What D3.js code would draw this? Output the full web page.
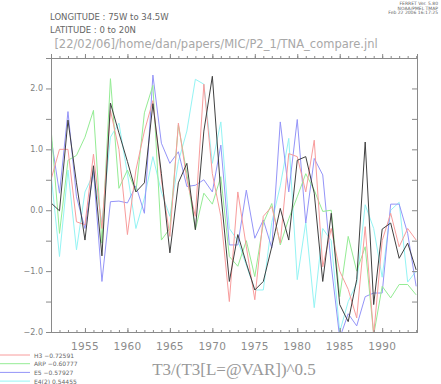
<!DOCTYPE html>
<html>
<head>
<meta charset="utf-8">
<script src="https://cdn.jsdelivr.net/npm/d3@7"></script>
<style>
body { margin: 0; background: #fff; }
#chart { width: 441px; height: 384px; }
</style>
</head>
<body>
<div id="chart"></div>
<script>
var years = [1951,1952,1953,1954,1955,1956,1957,1958,1959,1960,1961,1962,1963,1964,1965,1966,1967,1968,1969,1970,1971,1972,
    1973,1974,1975,1976,1977,1978,1979,1980,1981,1982,1983,1984,1985,1986,1987,1988,1989,1990,1991,1992,1993,1994]

var t3 = [0.12,-0.01,1.48,0.45,-0.49,0.73,-0.75,1.76,1.27,0.8,0.3,0.45,1.75,0.6,-0.7,0.45,0.77,-0.32,1.3,2.2,0.28,-1.17,
    -0.4,-0.87,-1.31,-1.17,-0.6,0.03,-0.49,0.82,0.88,0.28,-1.17,-0.05,-1.55,-1.83,-1.14,1.12,-1.55,-0.31,-0.21,-0.79,-0.54,-0.98]
var h3 = [0.5,1.0,1.0,-0.19,-0.24,0.92,-0.3,1.64,1.0,-0.4,0.66,1.3,1.8,0.5,-0.43,1.43,0.5,-0.1,2.07,0.6,-0.1,-1.5,
    0.3,-0.6,-1.47,-0.1,0.06,-0.54,0.93,0.88,0.3,1.15,-0.93,-0.3,-1.0,-1.3,-1.77,-0.27,-2.05,-0.5,-0.05,-0.6,-0.3,-0.49]
var arp = [1.35,-0.38,0.82,0.9,1.2,1.64,-0.54,2.16,0.36,0.66,0.3,1.6,2.05,-0.49,-0.3,1.4,0.6,-0.32,0.28,0.1,0.55,-0.76,
    -0.92,-0.5,-1.09,-0.21,0.11,-0.57,-0.14,0.22,0.6,0.33,-0.02,0.0,-1.42,-0.43,-1.0,-0.6,-2.05,-1.25,-1.44,-1.22,-1.22,-1.39]
var e5 = [1.2,0.28,1.62,0.22,-0.3,0.65,-1.17,0.14,0.15,0.12,0.4,-0.05,2.22,1.1,0.77,0.96,0.39,0.41,0.5,0.3,1.07,-0.57,
    -0.57,0.33,-0.46,-0.16,-0.62,1.45,0.3,1.49,-0.21,0.85,0.58,-0.9,-2.1,-1.7,-1.9,-1.42,-1.36,-1.36,0.1,0.1,-0.38,-1.25]
var e4 = [0.6,-0.76,0.66,-0.65,0.3,0.6,-0.2,1.2,1.43,0.6,-0.3,0.2,0.88,0.3,-0.1,0.8,1.3,2.15,2.07,0.77,1.45,-0.3,
    -0.5,-0.9,-1.31,-1.31,-0.2,0.4,1.18,-1.14,-0.2,-1.6,-0.3,-0.5,-2.0,-1.5,-1.2,0.09,-0.3,-1.1,0.0,0.13,-1.18,-1.0]

var xTicks = [1955,1960,1965,1970,1975,1980,1985,1990]
var yTicks = [-2.0,-1.0,0.0,1.0,2.0]
var legendNames = ["H3 \u22120.72591","ARP \u22120.60777","E5 \u22120.57927","E4(2) 0.54455"]
var headerLines = ["FERRET Ver. 5.80","NOAA/PMEL TMAP","Feb 22 2006 16:17:25"]

var series = [
    {name: "E4(2)", values: e4, color: "#94f4f4"},
    {name: "E5", values: e5, color: "#9494f8"},
    {name: "ARP", values: arp, color: "#94ec94"},
    {name: "H3", values: h3, color: "#f89c9c"},
    {name: "T3", values: t3, color: "#404040"}
]

var margin = {top: 58, right: 24, bottom: 52, left: 51}
var width = 441 - margin.left - margin.right
var height = 384 - margin.top - margin.bottom

var svg = d3.select("#chart").append("svg")
    .attr("width", 441)
    .attr("height", 384)
    .style("font-family", "DejaVu Sans, sans-serif")

var g = svg.append("g")
    .attr("transform", "translate(" + margin.left + "," + margin.top + ")")

var x = d3.scaleLinear().domain([1951, 1994.1]).range([0, width])
var y = d3.scaleLinear().domain([-2, 2.5]).range([height, 0])

g.append("clipPath").attr("id", "clip")
    .append("rect").attr("width", width).attr("height", height)

var line = d3.line()
    .x(function(d, i){ return x(years[i]) })
    .y(function(d){ return y(d) })

g.append("g").attr("clip-path", "url(#clip)")
    .selectAll("path")
    .data(series)
    .enter()
    .append("path")
    .attr("d", function(d){ return line(d.values) })
    .attr("fill", "none")
    .attr("stroke", function(d){ return d.color })
    .attr("stroke-width", 1)

// axes, ferret style: ticks inside on bottom/right, outside on left/top
var axisColor = "#8a8a8a"
var yearsAll = d3.range(1951, 1995)

g.append("g")
    .attr("transform", "translate(0," + height + ")")
    .call(d3.axisTop(x).tickValues(yearsAll).tickSize(2).tickFormat(""))
g.append("g")
    .attr("transform", "translate(0," + height + ")")
    .call(d3.axisTop(x).tickValues(xTicks).tickSize(4).tickFormat(""))
g.append("g")
    .call(d3.axisTop(x).tickValues(yearsAll).tickSize(2).tickFormat(""))
g.append("g")
    .call(d3.axisTop(x).tickValues(xTicks).tickSize(4).tickFormat(""))

var yAll = d3.range(-2, 2.51, 0.5)
g.append("g")
    .call(d3.axisLeft(y).tickValues(yAll).tickSize(5).tickFormat(""))
g.append("g")
    .attr("transform", "translate(" + width + ",0)")
    .call(d3.axisLeft(y).tickValues(yAll).tickSize(5).tickFormat(""))

g.selectAll(".domain").attr("stroke", axisColor)
g.selectAll(".tick line").attr("stroke", axisColor)

// tick labels
g.selectAll(".xlab")
    .data(xTicks)
    .enter()
    .append("text")
    .attr("x", function(d){ return x(d) })
    .attr("y", height + 18)
    .attr("text-anchor", "middle")
    .attr("font-size", 10.5)
    .attr("letter-spacing", 0.3)
    .attr("fill", "#8c8c8c")
    .text(function(d){ return d })

g.selectAll(".ylab")
    .data(yTicks)
    .enter()
    .append("text")
    .attr("x", -8)
    .attr("y", function(d){ return y(d) + 3 })
    .attr("text-anchor", "end")
    .attr("font-size", 8)
    .attr("fill", "#808080")
    .text(function(d){ return d3.format(".1f")(d).replace("-", "\u2212") })

// header text
svg.append("text").attr("x", 50).attr("y", 20).attr("font-size", 8.5).attr("fill", "#666")
    .text("LONGITUDE : 75W to 34.5W")
svg.append("text").attr("x", 50).attr("y", 33).attr("font-size", 8.5).attr("fill", "#666")
    .text("LATITUDE : 0 to 20N")
svg.append("text").attr("x", 216).attr("y", 48).attr("text-anchor", "middle")
    .attr("font-size", 11.5).attr("fill", "#a8a8a8")
    .text("[22/02/06]/home/dan/papers/MIC/P2_1/TNA_compare.jnl")

svg.selectAll(".hdr")
    .data(headerLines)
    .enter()
    .append("text")
    .attr("x", 438)
    .attr("y", function(d, i){ return 5 + i * 4.5 })
    .attr("text-anchor", "end")
    .attr("font-size", 4.5)
    .attr("fill", "#666")
    .text(function(d){ return d })

// legend, bottom left
var legendColors = ["#f89c9c","#94ec94","#9494f8","#94f4f4"]
var leg = svg.selectAll(".leg")
    .data(legendNames)
    .enter()
    .append("g")
    .attr("transform", function(d, i){ return "translate(0," + (355 + i * 8.7) + ")" })
leg.append("line")
    .attr("x1", 0).attr("x2", 30)
    .attr("stroke", function(d, i){ return legendColors[i] })
leg.append("text")
    .attr("x", 34).attr("y", 2.5)
    .attr("font-size", 6)
    .attr("fill", "#666")
    .text(function(d){ return d })

svg.append("text")
    .attr("x", 234).attr("y", 375)
    .attr("text-anchor", "middle")
    .attr("font-family", "Liberation Serif, serif")
    .attr("font-size", 17)
    .attr("fill", "#999")
    .text("T3/(T3[L=@VAR])^0.5")
</script>
</body>
</html>
